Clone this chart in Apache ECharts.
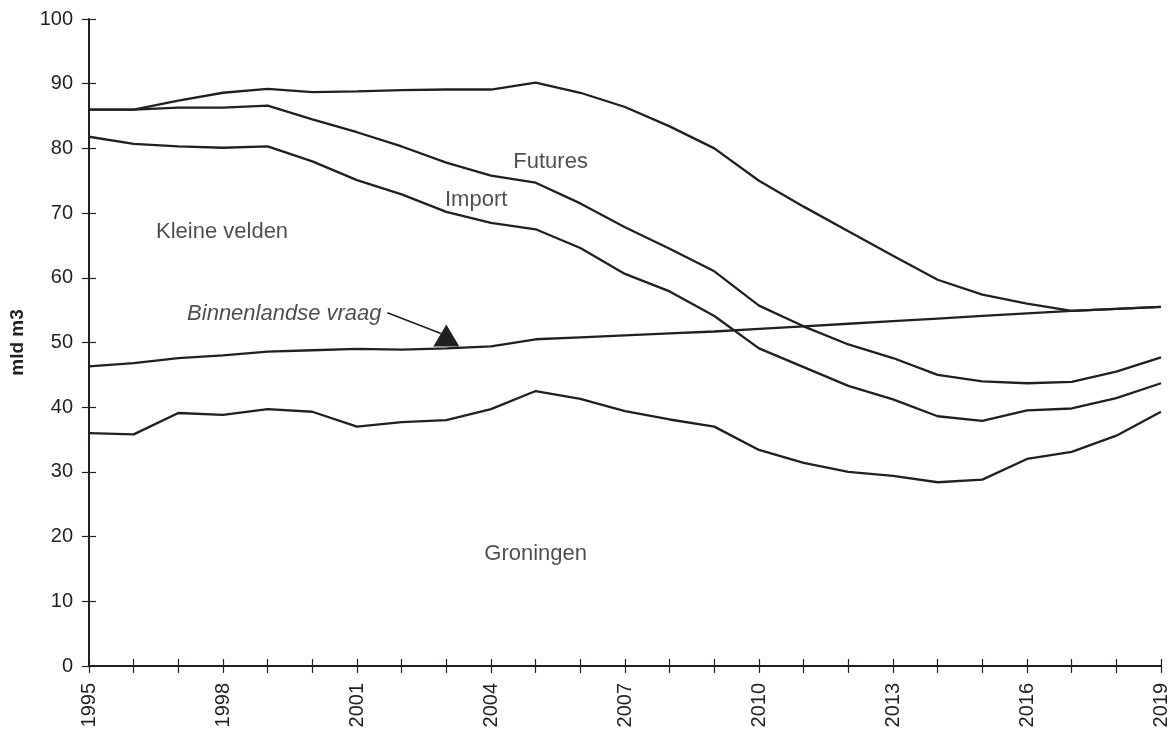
<!DOCTYPE html>
<html>
<head>
<meta charset="utf-8">
<script src="https://cdn.jsdelivr.net/npm/echarts@6/dist/echarts.min.js"></script>
<style>
html,body{margin:0;padding:0;background:#fff;}
#chart{width:1175px;height:733px;}
</style>
</head>
<body>
<div id="chart"></div>
<script>
// ---- data ----
var years = [1995,1996,1997,1998,1999,2000,2001,2002,2003,2004,2005,2006,2007,2008,2009,2010,2011,2012,2013,2014,2015,2016,2017,2018,2019];
var groningen = [36.0,35.8,39.1,38.8,39.7,39.3,37.0,37.7,38.0,39.7,42.5,41.3,39.4,38.1,37.0,33.4,31.4,30.0,29.4,28.4,28.8,32.0,33.1,35.6,39.3];
var kleineVelden = [81.8,80.7,80.3,80.1,80.3,78.0,75.1,72.9,70.2,68.5,67.5,64.6,60.6,57.9,54.1,49.1,46.2,43.3,41.2,38.6,37.9,39.5,39.8,41.4,43.7];
var importLine = [86.0,86.0,86.3,86.3,86.6,84.5,82.5,80.3,77.8,75.8,74.7,71.5,67.8,64.5,61.0,55.7,52.5,49.7,47.6,45.0,44.0,43.7,43.9,45.5,47.7];
var futures = [86.0,86.0,87.4,88.6,89.2,88.7,88.8,89.0,89.1,89.1,90.15,88.6,86.4,83.4,80.0,75.0,71.0,67.2,63.4,59.7,57.4,56.0,54.9,55.2,55.5];
var binnenlandseVraag = [46.3,46.8,47.6,48.0,48.6,48.8,49.0,48.9,49.1,49.4,50.5,50.8,51.1,51.4,51.7,52.1,52.5,52.9,53.3,53.7,54.1,54.5,54.9,55.2,55.5];
var yTicks = [0,10,20,30,40,50,60,70,80,90,100];
var xLabelYears = [1995,1998,2001,2004,2007,2010,2013,2016,2019];
var yAxisName = 'mld m3';

function pairs(vals){ return years.map(function(y,i){ return [y, vals[i]]; }); }

var INK = '#231f20';
var FONT = '"Liberation Sans", Arial, Helvetica, sans-serif';

function lineSeries(name, vals, extra){
  var s = {
    name: name, type: 'line', data: pairs(vals), symbol: 'none', smooth: false,
    lineStyle: {color: INK, width: 2.3}, itemStyle: {color: INK}, z: 3, silent: true
  };
  if (extra) for (var k in extra) s[k] = extra[k];
  return s;
}

function txt(pos, italic){
  return {show: true, position: pos, distance: 0, formatter: '{b}', color: INK,
          fontFamily: FONT, fontSize: 22, fontStyle: italic ? 'italic' : 'normal',
          textBorderWidth: 0};
}

var chart = echarts.init(document.getElementById('chart'), null, {renderer: 'canvas'});
var option = {
  animation: false,
  backgroundColor: '#fff',
  grid: {left: 85, right: 14, top: 19, bottom: 67, containLabel: false},
  xAxis: [{
    type: 'value', min: 1995, max: 2019, interval: 1,
    axisLine: {show: true, lineStyle: {color: INK, width: 2}},
    axisTick: {show: true, length: 7, lineStyle: {color: INK, width: 1.2}},
    splitLine: {show: false},
    axisLabel: {
      rotate: 90, margin: 17, color: INK, fontFamily: FONT, fontSize: 20,
      formatter: function(v){ return xLabelYears.indexOf(v) >= 0 ? String(v) : ''; }
    }
  },{
    type: 'value', min: 1995, max: 2019, interval: 1, position: 'bottom',
    axisLine: {show: false},
    axisTick: {show: true, inside: true, length: 7, lineStyle: {color: INK, width: 1.2}},
    splitLine: {show: false}, axisLabel: {show: false}
  }],
  yAxis: [{
    type: 'value', min: yTicks[0], max: yTicks[yTicks.length-1], interval: 10,
    name: yAxisName, nameLocation: 'middle', nameGap: 62, nameRotate: 90,
    nameTextStyle: {color: INK, fontFamily: FONT, fontSize: 19, fontWeight: 'bold'},
    axisLine: {show: true, lineStyle: {color: INK, width: 2}},
    axisTick: {show: true, length: 7, lineStyle: {color: INK, width: 1.2}},
    splitLine: {show: false},
    axisLabel: {margin: 16, color: INK, fontFamily: FONT, fontSize: 20}
  },{
    type: 'value', min: yTicks[0], max: yTicks[yTicks.length-1], interval: 10, position: 'left',
    axisLine: {show: false},
    axisTick: {show: true, inside: true, length: 7, lineStyle: {color: INK, width: 1.2}},
    splitLine: {show: false}, axisLabel: {show: false}
  }],
  series: [
    lineSeries('Groningen', groningen),
    lineSeries('Kleine velden', kleineVelden),
    lineSeries('Import', importLine),
    lineSeries('Futures', futures),
    lineSeries('Binnenlandse vraag', binnenlandseVraag, {
      markLine: {
        silent: true, symbol: ['none','none'],
        lineStyle: {color: INK, width: 1.6, type: 'solid'},
        label: {show: false},
        data: [[{coord: [2001.68, 54.6]}, {coord: [2002.88, 51.4]}]]
      },
      markPoint: {
        silent: true,
        data: [{coord: [2003.0, 49.4], symbol: 'triangle', symbolSize: [26, 22], symbolOffset: [0, '-50%'],
                itemStyle: {color: INK}, label: {show: false}}]
      }
    }),
    {
      type: 'scatter', symbolSize: 0, silent: true, z: 5,
      itemStyle: {color: INK},
      data: [
        {value: [1996.5, 67.1], name: 'Kleine velden', label: txt('right')},
        {value: [2002.97, 72.1], name: 'Import', label: txt('right')},
        {value: [2004.5, 77.9], name: 'Futures', label: txt('right')},
        {value: [2005.0, 17.3], name: 'Groningen', label: txt('inside')},
        {value: [2001.55, 54.5], name: 'Binnenlandse vraag', label: txt('left', true)}
      ]
    }
  ]
};
chart.setOption(option);
</script>
</body>
</html>
